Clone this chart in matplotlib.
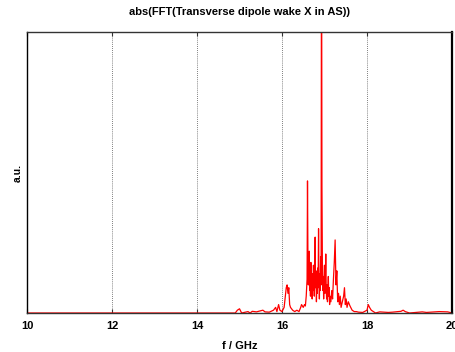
import matplotlib
matplotlib.use("Agg")
import matplotlib.pyplot as plt

freq = [10.0, 14.9, 14.95, 15.0, 15.05, 15.2, 15.25, 15.3, 15.4, 15.5, 15.55, 15.6, 15.7,
        15.8, 15.85, 15.88, 15.92, 15.95, 16.0, 16.05, 16.08, 16.1, 16.12, 16.14, 16.16,
        16.18, 16.2, 16.25, 16.3, 16.35, 16.4, 16.44, 16.46, 16.5, 16.53, 16.55, 16.57,
        16.59, 16.6, 16.61, 16.62, 16.63, 16.64, 16.65, 16.66, 16.67, 16.68, 16.69, 16.7,
        16.71, 16.72, 16.73, 16.74, 16.75, 16.76, 16.77, 16.78, 16.79, 16.8, 16.81, 16.82,
        16.83, 16.84, 16.85, 16.86, 16.87, 16.88, 16.89, 16.9, 16.91, 16.92, 16.93, 16.94,
        16.95, 16.96, 16.97, 16.98, 16.99, 17.0, 17.01, 17.02, 17.03, 17.04, 17.05, 17.06,
        17.07, 17.08, 17.09, 17.1, 17.11, 17.12, 17.13, 17.15, 17.17, 17.19, 17.21, 17.23,
        17.25, 17.27, 17.29, 17.31, 17.33, 17.35, 17.37, 17.39, 17.42, 17.45, 17.47, 17.49,
        17.51, 17.53, 17.56, 17.6, 17.65, 17.7, 17.75, 17.8, 17.9, 17.95, 18.0, 18.03,
        18.06, 18.1, 18.15, 18.2, 18.3, 18.5, 18.6, 18.8, 18.85, 18.9, 19.0, 19.3, 19.4,
        19.7, 19.9, 20.0]
amp = [0.0, 0.0, 0.01, 0.015, 0.0, 0.005, 0.0, 0.006, 0.004, 0.008, 0.01, 0.004, 0.003,
       0.01, 0.02, 0.005, 0.03, 0.01, 0.005, 0.02, 0.06, 0.09, 0.10, 0.07, 0.09,
       0.03, 0.02, 0.01, 0.005, 0.01, 0.005, 0.02, 0.03, 0.02, 0.03, 0.025, 0.06,
       0.12, 0.47, 0.20, 0.10, 0.16, 0.22, 0.08, 0.13, 0.06, 0.18, 0.09, 0.12,
       0.05, 0.14, 0.08, 0.17, 0.10, 0.06, 0.13, 0.27, 0.09, 0.15, 0.04, 0.11,
       0.07, 0.16, 0.09, 0.30, 0.12, 0.05, 0.14, 0.08, 0.20, 0.10, 1.5, 0.45,
       0.18, 0.08, 0.13, 0.05, 0.11, 0.17, 0.07, 0.12, 0.21, 0.09, 0.05, 0.10,
       0.04, 0.08, 0.13, 0.06, 0.09, 0.03, 0.06, 0.04, 0.08, 0.05, 0.12, 0.18,
       0.26, 0.10, 0.15, 0.04, 0.07, 0.03, 0.06, 0.02, 0.04, 0.06, 0.09, 0.03,
       0.05, 0.02, 0.04, 0.025, 0.01, 0.005, 0.005, 0.003, 0.002, 0.006, 0.01, 0.03,
       0.02, 0.01, 0.005, 0.0, 0.004, 0.002, 0.003, 0.006, 0.01, 0.005, 0.0, 0.004, 0.002,
       0.005, 0.004, 0.0]
xticks = [10, 12, 14, 16, 18, 20]

plt.rcParams['font.family'] = ['Liberation Sans', 'DejaVu Sans']
fig = plt.figure(figsize=(4.56, 3.52), dpi=100)
ax = fig.add_axes([27/456, 39/352, 425/456, 281/352])
ax.plot(freq, amp, color='#ff0000', lw=0.9)
ax.set_xlim(10, 20)
ax.set_ylim(0, 1.0)
ax.set_xticks(xticks)
ax.set_xticklabels([str(t) for t in xticks], fontsize=8, fontweight='bold')
ax.set_yticks([])
ax.tick_params(axis='x', direction='in', length=3, width=0.8, top=True, pad=6, color='#333333')
for t in xticks[1:-1]:
    ax.axvline(t, color='#555555', lw=0.6, ls=(0, (1, 1.5)), zorder=0)
for s in ax.spines.values():
    s.set_color('#333333')
    s.set_linewidth(1.0)
ax.spines['right'].set_linewidth(1.6)
ax.spines['right'].set_color('black')
ax.spines['left'].set_color('black')
ax.set_title('abs(FFT(Transverse dipole wake X in AS))', fontsize=8, fontweight='bold', pad=12)
ax.set_xlabel('f / GHz', fontsize=8, fontweight='bold', labelpad=7)
ax.set_ylabel('a.u.', fontsize=7.5, fontweight='bold', labelpad=3)
fig.savefig('out.png', dpi=100)
